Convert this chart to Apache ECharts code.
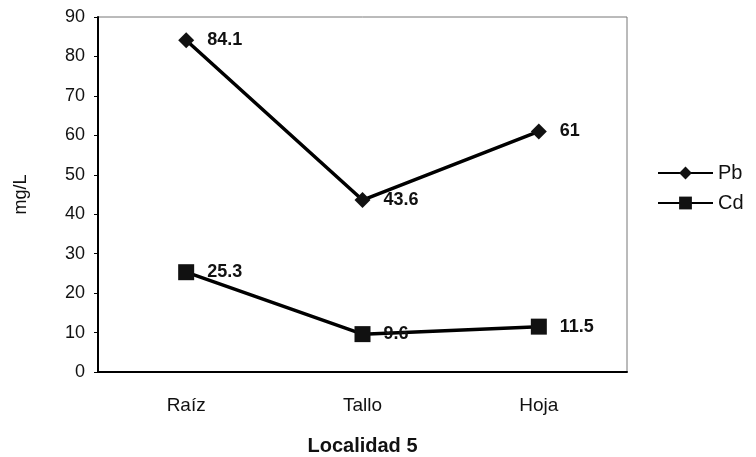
<!DOCTYPE html>
<html>
<head>
<meta charset="utf-8">
<script src="https://cdn.jsdelivr.net/npm/echarts@6/dist/echarts.min.js"></script>
<style>
  html, body { margin: 0; padding: 0; background: #fff; }
  #chart { width: 756px; height: 457px; }
</style>
</head>
<body>
<div id="chart"></div>
<script>
// data
const categories = ['Raíz', 'Tallo', 'Hoja'];
const pbValues = [84.1, 43.6, 61];
const cdValues = [25.3, 9.6, 11.5];
const yTicks = { min: 0, max: 90, interval: 10 };

const chart = echarts.init(document.getElementById('chart'));
const font = 'Arial, "Liberation Sans", sans-serif';

const makeSeries = (name, data, symbol) => ({
  type: 'line',
  name: name,
  data: data,
  symbol: symbol,
  symbolSize: 16,
  lineStyle: { color: '#000', width: 3.5 },
  itemStyle: { color: '#111' },
  label: {
    show: true,
    position: 'right',
    distance: 13,
    color: '#111',
    fontSize: 18,
    fontWeight: 'bold',
    fontFamily: font
  }
});

chart.setOption({
  animation: false,
  textStyle: { fontFamily: font },
  grid: {
    left: 98, right: 129, top: 17, bottom: 85,
    containLabel: false,
    outerBoundsMode: 'none',
    show: true, borderColor: '#777', borderWidth: 1
  },
  legend: {
    orient: 'vertical',
    left: 652, top: 158,
    itemWidth: 55, itemHeight: 16, itemGap: 10,
    textStyle: { fontSize: 20, color: '#111', fontFamily: font },
    data: ['Pb', 'Cd']
  },
  xAxis: {
    type: 'category',
    data: categories,
    name: 'Localidad 5',
    nameLocation: 'middle',
    nameGap: 64,
    nameTextStyle: { fontSize: 20, fontWeight: 'bold', color: '#111' },
    axisLine: { lineStyle: { color: '#000', width: 2 } },
    axisTick: { show: false },
    axisLabel: { fontSize: 19, color: '#111', margin: 24 }
  },
  yAxis: {
    type: 'value',
    min: yTicks.min, max: yTicks.max, interval: yTicks.interval,
    name: 'mg/L',
    nameLocation: 'middle',
    nameGap: 68,
    nameTextStyle: { fontSize: 18, color: '#111' },
    axisLine: { show: true, lineStyle: { color: '#000', width: 2 } },
    axisTick: { show: true, length: 4, lineStyle: { color: '#000' } },
    axisLabel: { fontSize: 18, color: '#111', margin: 13 },
    splitLine: { show: false }
  },
  series: [
    makeSeries('Pb', pbValues, 'diamond'),
    makeSeries('Cd', cdValues, 'rect')
  ]
});
</script>
</body>
</html>
